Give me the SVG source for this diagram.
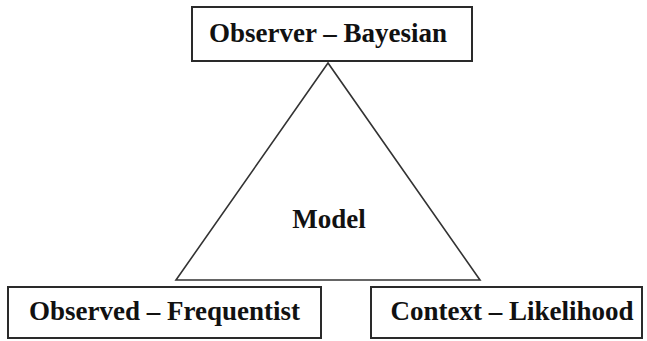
<svg xmlns="http://www.w3.org/2000/svg" width="647" height="341" viewBox="0 0 647 341">
<style>
.box{fill:#fff;stroke:#2a2a2a;stroke-width:2}
.lbl{font-family:"Liberation Serif","Times New Roman",serif;font-weight:bold;font-size:27px;fill:#111;text-anchor:middle}
.tri{fill:#fff;stroke:#333;stroke-width:1.6;stroke-linejoin:miter}
</style>
<rect width="647" height="341" fill="#fff"/>
<g id="connectors">
<polygon class="tri" points="328,63 176,280 480,280"/>
</g>
<g id="model">
<text class="lbl" x="329" y="228">Model</text>
</g>
<g id="observer">
<rect class="box" x="192" y="7" width="280" height="54"/>
<text class="lbl" x="328" y="42">Observer – Bayesian</text>
</g>
<g id="observed">
<rect class="box" x="8" y="287" width="313" height="51"/>
<text class="lbl" x="164.5" y="320">Observed – Frequentist</text>
</g>
<g id="context">
<rect class="box" x="371" y="287" width="271" height="51"/>
<text class="lbl" x="512" y="320">Context – Likelihood</text>
</g>
</svg>
